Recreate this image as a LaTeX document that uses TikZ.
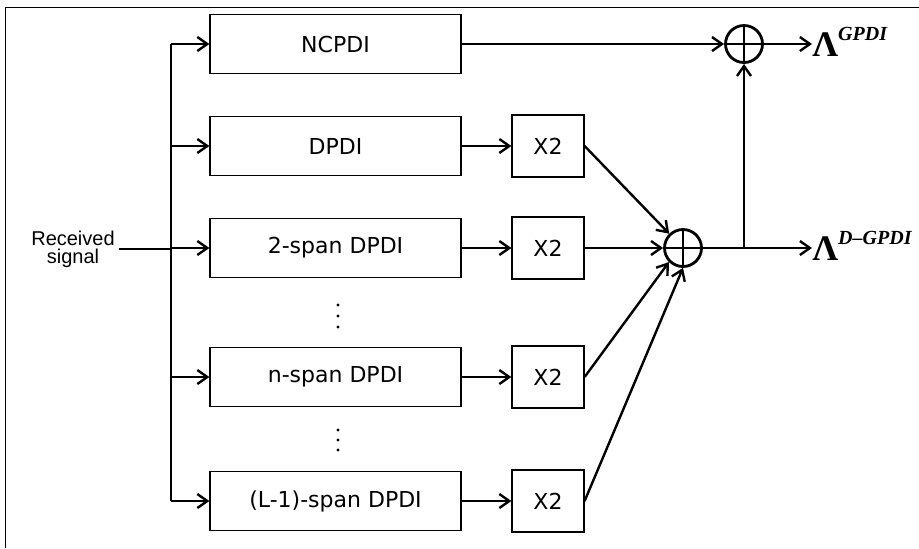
\documentclass[tikz,border=0pt]{standalone}
\usepackage{fontspec}
\newfontfamily\boxfont{DejaVu Sans}
\newfontfamily\labfont{Liberation Sans}
\newfontfamily\outfont{Liberation Serif}
\usetikzlibrary{arrows.meta}

\begin{document}
\begin{tikzpicture}[x=0.5pt, y=-0.5pt,
    blk/.style = {draw, line width=0.6pt, minimum width=125.5pt, minimum height=29.5pt, font=\boxfont\fontsize{11}{13}\selectfont},
    mul/.style = {draw, line width=0.6pt, minimum width=36pt, minimum height=31pt, font=\boxfont\fontsize{11}{13}\selectfont},
    sum/.style = {draw, circle, line width=1.4pt, minimum size=18.5pt, inner sep=0pt,
        path picture={\draw[line width=1.1pt] (path picture bounding box.north) -- (path picture bounding box.south)
                                              (path picture bounding box.west) -- (path picture bounding box.east);}},
    outl/.style = {anchor=base west, inner sep=0pt, font=\outfont},
    con/.style = {line width=1.2pt, -{Straight Barb[length=5pt,width=7pt]}}]

    \useasboundingbox (0,0) rectangle (919,548);
    \draw[line width=0.5pt] (5,548) -- (5,7) -- (919,7);

    \node[blk] (b0) at (335.5,44) {NCPDI};
    \node[blk] (b1) at (335.5,146) {DPDI};
    \node[blk] (b2) at (335.5,248) {2-span DPDI};
    \node[blk] (b3) at (335.5,377) {n-span DPDI};
    \node[blk] (b4) at (335.5,501) {(L-1)-span DPDI};
    \foreach \y in {305,316,327,430,440,450}
        \fill (338,\y) circle (0.8pt);

    \node[mul] (m1) at (548,146) {X2};
    \node[mul] (m2) at (548,248) {X2};
    \node[mul] (m3) at (548,377) {X2};
    \node[mul] (m4) at (548,501) {X2};

    \node[sum] (s1) at (683,248) {};
    \node[sum] (s2) at (744,44) {};

    \node[font=\labfont\fontsize{10}{9}\selectfont, align=center, inner sep=2pt] (rx) at (73,249) {Received\\signal};
    \node[outl] (o1) at (812,56) {\bfseries\fontsize{18}{18}\selectfont Λ\raisebox{8pt}{\fontsize{10}{10}\selectfont\itshape GPDI}};
    \node[outl] (o2) at (812,260) {\bfseries\fontsize{18}{18}\selectfont Λ\raisebox{8pt}{\fontsize{10}{10}\selectfont\itshape D–GPDI}};

    \coordinate (t) at (171,44);
    \coordinate (bt) at (171,501);
    \coordinate (k) at (744,248);

    \draw[line width=1.2pt] (rx.east) -- (rx.east -| t);
    \draw[line width=1.2pt] (t) -- (bt);
    \foreach \b in {b0,b1,b2,b3,b4}
        \draw[con] (\b.west -| t) -- (\b.west);
    \foreach \b/\m in {b1/m1,b2/m2,b3/m3,b4/m4}
        \draw[con] (\b) -- (\m);

    \draw[con] (m1.east) -- (s1);
    \draw[con] (m2) -- (s1);
    \draw[con] (m3.east) -- (s1.south west);
    \draw[con] (m4.east) -- (s1.south);

    \draw[con] (b0) -- (s2);
    \draw[con] (s2) -- (s2 -| o1.west);
    \draw[con] (s1) -- (k -| o2.west);
    \draw[con] (k) -- (s2);

\end{tikzpicture}
\end{document}
